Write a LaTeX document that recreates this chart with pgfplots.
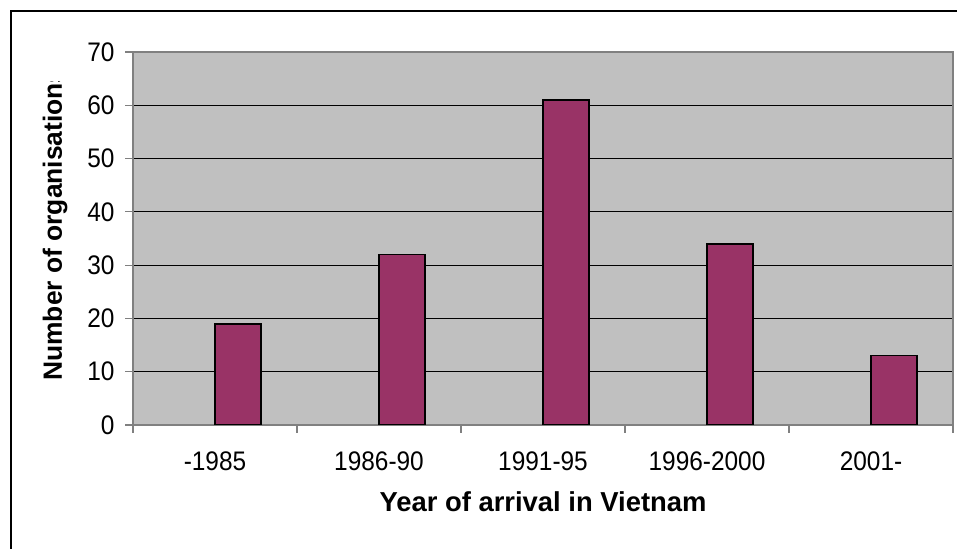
\documentclass[border=0pt]{standalone}
\usepackage{fontspec}
\setmainfont{Liberation Sans}
\usepackage{graphicx}
\usepackage{pgfplots}
\pgfplotsset{compat=1.18}
\definecolor{plotbg}{HTML}{C0C0C0}
\definecolor{barcol}{HTML}{993366}
\definecolor{axgray}{HTML}{808080}
\newcommand\vs[1]{\scalebox{1}[1.1]{#1}}
\begin{document}
\begin{tikzpicture}[x=1bp,y=1bp]
\useasboundingbox (0,0) rectangle (957,549);
\draw[line width=2bp,black] (11,0) -- (11,538) -- (957,538);
\begin{axis}[
  at={(133bp,124bp)}, anchor=south west,
  scale only axis, width=820bp, height=373bp,
  xmin=0, xmax=5, ymin=0, ymax=70,
  axis background/.style={fill=plotbg},
  axis line style={draw=axgray, line width=1.5bp},
  xtick={0,1,2,3,4,5},
  x tick label as interval,
  xticklabels={\vs{-1985},\vs{1986-90},\vs{1991-95},\vs{1996-2000},\vs{2001-}},
  ytick={0,10,...,70},
  yticklabel={\vs{\pgfmathprintnumber{\tick}}},
  xtick pos=lower, ytick pos=left,
  ymajorgrids,
  grid style={black, line width=0.9bp},
  tick align=outside,
  major tick length=8bp,
  tick style={axgray, line width=1.2bp},
  /pgf/number format/assume math mode=true,
  tick label style={font=\fontsize{24.5}{29}\selectfont},
  xticklabel style={yshift=-15bp},
  yticklabel style={xshift=-7bp},
  xlabel={\bfseries Year of arrival in Vietnam},
  xlabel style={font=\fontsize{27.5}{32}\selectfont, at={(axis description cs:0.5,0)}, anchor=base, yshift=-87bp},
]
\addplot[ybar, bar width=46bp, bar shift=23bp, fill=barcol, draw=black, line width=1.5bp]
  coordinates {(0.5,19) (1.5,32) (2.5,61) (3.5,34) (4.5,13)};
\end{axis}
\begin{scope}
\clip (0,0) rectangle (957,467);
\node[rotate=90, anchor=west, inner sep=0pt, font=\fontsize{26.5}{30}\selectfont\bfseries] at (55,168) {Number of organisations};
\end{scope}
\end{tikzpicture}
\end{document}
